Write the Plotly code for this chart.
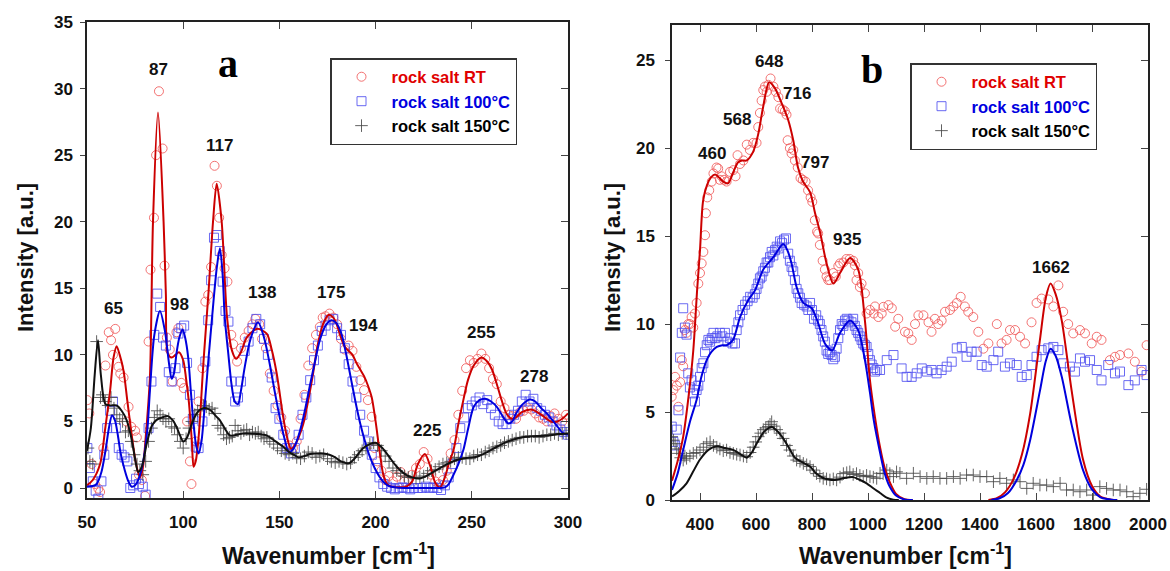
import plotly.graph_objects as go

# ---------------- Panel a data ----------------
a_rt_x = [50.2,51.2,52.4,54.1,55.9,56.8,58.5,59.6,61.3,62.5,63.5,64.7,66.4,67.3,69,70.5,71.6,73,75,75.9,77,78.5,80.2,82,83,84.8,85.9,87.4,89.3,90.3,91.5,93,94.5,96.5,97.5,99,100.3,102,103.5,104.3,106.5,108,110,111.5,113,114.5,116.3,117.5,118.7,120,121.5,123,125,126,128,130,132,134,136,137.5,139.5,141,143,145,147,149,151,153,155,157,159,161,163,165,167,169,171,172.5,174,176,178,180,182,184,186,188,190,192,194,196,198,199.5,201,203,205,207,209,211,213,215,217,219,221,223,225,227,229,231,233,235,237,239,241,243,245,247,249,251,253,255,257,259,261,263,265,267,269,271,273,275,277,279,281,283,285,287,289,291,293,295,297,299]
a_rt_y = [6.6,5.6,1.8,0.3,-0.05,-0.3,3.0,9.2,11.7,11.1,10.0,11.95,9.1,8.6,8.3,5.0,6.1,4.6,4.3,3.8,1.0,0.6,-0.6,11.0,16.4,20.3,25.0,29.8,25.5,16.7,11.3,10.4,8.0,11.7,12.0,7.9,7.5,5.0,2.0,0.3,3.5,6.5,9.0,14.0,14.5,16.6,24.2,22.7,20.3,17.5,16.5,15.5,11.5,10.8,9.5,10.5,11.3,11.8,12.3,12.7,12.3,11.2,10.5,8.6,7.3,6.2,5.3,4.3,3.2,3.0,3.5,5.2,7.0,9.2,10.5,11.5,12.1,12.8,12.9,13.1,12.8,12.3,11.2,10.4,10.7,10.3,9.1,8.1,7.35,6.6,5.35,3.0,2.0,1.3,0.6,0.9,0.5,0.85,1.2,0.5,0.6,1.0,1.5,1.8,2.7,2.2,1.0,0.5,0.3,0.6,1.3,2.6,3.6,5.5,7.3,9.0,9.6,9.4,9.7,10.1,9.7,9.0,8.2,7.8,6.5,6.0,5.5,5.4,5.2,5.7,5.8,6.0,5.9,5.6,5.3,5.2,5.0,5.4,5.6,5.2,5.0,5.5]

a_100_x = [50.2,51.5,53,54.5,55.9,57.5,59,60.5,62,63.5,65,66.5,68,69.5,71,72.5,74,75.5,77,79,80.5,82,83.5,85,86.5,88,89.5,91,92.5,94,96,97.5,99,100.5,102,103.5,105,106.5,108,110,111.5,113,114.5,116,117.5,119,120.5,122,123.5,125,127,128.5,130,132,134,136,138,140,142,144,146,148,150,152,154,156,158,160,162,164,166,168,170,172,174,176,178,180,182,184,186,188,190,192,194,196,198,200,202,204,206,208,210,212,214,216,218,220,222,224,226,228,230,232,234,236,238,240,242,244,246,248,250,252,254,256,258,260,262,264,266,268,270,272,274,276,278,280,282,284,286,288,290,292,294,296,298,300]
a_100_y = [3.0,1.5,0.5,-0.2,-0.8,0.5,2.5,4.5,5.8,6.5,4.5,3.0,2.5,2.3,2.0,0.0,0.2,0.7,0.3,0.1,-0.5,4.5,8.0,11.5,14.6,13.6,11.3,10.7,8.7,8.0,9.0,11.6,12.0,12.2,9.4,7.0,5.2,3.1,3.0,5.0,9.5,12.6,15.6,18.8,19.0,17.8,15.5,13.3,12.5,8.0,6.5,6.8,8.0,10.3,11.0,12.0,12.7,12.3,11.2,10.0,8.3,6.0,5.2,4.0,3.0,2.6,3.0,4.0,5.5,6.8,8.1,9.6,10.7,11.8,12.2,12.6,12.7,12.0,11.5,10.5,9.3,8.0,6.8,5.5,4.3,3.5,2.5,1.5,0.8,0.3,0.1,0.0,-0.1,0.0,0.05,0.0,-0.1,0.0,0.0,0.0,0.1,0.0,0.05,0.0,-0.15,0.2,0.8,1.8,3.0,4.5,5.3,6.0,6.2,6.5,6.8,6.3,6.6,6.0,5.5,5.0,4.8,4.8,5.2,5.5,5.8,6.5,7.0,6.5,6.7,6.0,5.8,5.5,5.3,5.0,4.7,4.4,4.2,4.0]

a_150_x = [50.5,51.5,53,55,57,58,59.5,61,62.5,64,65.5,67,68.5,70,71.5,73,74.5,76,77.5,79,80.5,82,83.5,85,86.5,88,89.5,91,92.5,94,95.5,97,98.5,100,101.5,103,104.5,106,107.5,109,110.5,112,113.5,115,116.5,118,119.5,121,122.5,124,125.5,127,128.5,130,131.5,133,134.5,136,137.5,139,140.5,142,143.5,145,147,149,151,153,155,157,159,161,163,165,167,169,171,173,175,177,179,181,183,185,187,189,191,193,195,197,199,201,203,205,207,209,211,213,215,217,219,221,223,225,227,229,231,233,235,237,239,241,243,245,247,249,251,253,255,257,259,261,263,265,267,269,271,273,275,277,279,281,283,285,287,289,291,293,295,297,299]
a_150_y = [3.0,2.0,1.8,11.0,6.8,7.0,6.5,6.2,6.8,6.0,5.5,5.2,5.0,4.2,4.3,3.5,2.5,1.8,1.3,1.0,2.0,3.5,4.5,5.3,5.8,5.5,5.2,5.0,5.2,4.6,4.5,4.0,3.5,3.0,3.7,4.5,5.0,5.5,5.8,5.9,6.2,6.1,5.9,6.0,5.6,4.7,4.5,4.0,3.7,3.8,3.9,4.7,4.3,4.1,4.3,4.4,4.0,4.2,4.1,4.2,3.9,3.7,3.8,3.5,3.3,3.0,2.8,2.6,2.5,2.6,2.3,2.2,2.4,2.7,2.6,2.3,2.4,2.5,2.2,2.0,1.9,2.0,1.9,1.8,1.9,2.3,2.5,2.8,3.0,3.3,3.4,3.2,2.8,2.4,2.0,1.5,1.3,1.1,0.9,0.8,0.8,0.7,0.8,0.9,1.1,1.3,1.4,1.6,1.8,1.9,2.0,2.2,2.3,2.3,2.2,2.2,2.4,2.5,2.5,2.7,2.8,3.0,3.1,3.2,3.4,3.5,3.6,3.7,3.8,3.8,3.9,3.9,3.9,3.8,3.9,4.0,4.0,4.1,4.0,4.1,4.1]

a_fit_rt_x = [50,53,56.8,59.5,62,63.8,65.4,67,69,71,73.4,75.5,77.5,79,80.5,82.7,84.3,86.9,89.8,91,92,94,96,97.8,100,101.5,103,104.5,105.4,106.5,108,110.6,113.2,115.5,117.4,120,122.8,125.4,127.5,130,133,138.3,143.4,146,148.6,152,154,156,158,160,162.4,165,167.5,170,172.7,175.5,178,180,182,184,186,188,190,192,194,196,198,200,202,204,206,208,212,216,219,222,225.6,228.5,231,233.5,236,238,240.5,243,245.6,248,251,255,258,260.5,262.9,265.5,268,270.7,273,276,281,284,287.5,291,294.5,297,300]
a_fit_rt_y = [0.2,0.6,1.8,4.5,7.3,9.8,10.65,10.0,8.8,6.5,3.8,1.8,0.8,1.5,3.8,8.3,20.0,28.2,20.0,14.5,10.1,9.8,10.0,10.2,9.6,8.2,6.4,3.5,1.6,2.0,3.8,9.6,14.8,20.0,22.85,20.0,12.8,10.3,9.7,10.2,11.3,11.95,11.6,10.4,8.6,5.3,3.8,2.95,3.2,3.8,4.8,6.6,8.6,10.8,12.3,13.0,12.8,12.2,11.3,10.6,10.3,10.0,9.4,8.9,8.4,7.7,6.8,5.0,2.85,1.0,0.3,0.1,0.05,0.1,0.5,1.8,2.55,1.6,0.4,0.05,0.8,1.8,2.85,4.8,6.6,8.1,9.2,9.8,9.5,8.9,7.85,6.6,5.6,5.2,5.3,5.7,5.9,5.7,5.35,5.0,5.0,5.2,5.6]

a_fit_100_x = [50,53,55,57.5,59.6,61.5,63,64.5,66,67.5,69.7,71.5,73.2,75,76.6,78.5,80.1,81.5,82.7,85,87.9,90.5,92.5,94,95.2,96.5,98,99.7,101,102.6,104,105.4,106.7,108,109.5,111.5,113.2,115,117.5,119.1,120.5,121.6,123.5,125.1,126.8,128.5,130,132,135,138.9,142,145,147.5,150.2,152.5,155,157.5,160.7,163.5,166,168.5,171,174,177,179.5,182.2,184.5,187,189.5,192,194.5,197,199.5,202,204.5,207,210,215,225,232,236,238,240,243,245.6,248,251,254,257,260,263,266,269,271,273,276.5,280.2,283,286,289,293,297.6,300]
a_fit_100_y = [0.1,0.15,0.3,1.2,2.8,4.6,5.45,5.1,4.0,2.6,1.3,0.5,0.1,0.2,0.6,1.5,2.8,4.6,7.3,11.5,13.3,11.8,9.5,8.2,8.6,10.1,11.3,11.9,11.3,9.8,7.2,4.8,3.2,2.6,3.5,6.8,9.8,12.8,16.6,18.0,16.0,12.8,10.0,7.8,6.5,6.3,7.3,9.1,11.2,12.45,11.3,9.3,7.3,5.3,3.8,2.7,3.0,4.3,6.0,7.8,9.5,11.1,12.2,12.6,12.4,11.6,10.2,8.35,6.5,4.85,3.5,2.35,1.5,0.85,0.4,0.15,0.05,0.0,0.0,0.0,0.05,0.3,0.85,1.8,2.85,4.4,6.1,6.6,6.7,6.5,6.1,5.4,4.85,5.0,5.6,6.3,6.65,6.5,6.0,5.6,4.9,4.1,4.0]

a_fit_150_x = [50,52,54,55.7,57.2,59.6,62,65.4,68,70.6,73,75,76.6,78.5,81,83.5,86,89,92,94.5,96.5,98.5,100,102,104.4,107,109.5,112,114.5,117,119,121.5,124.3,128,131,134.7,139,143.4,147,150,152,155,158,160,163,166,169.4,173,176,179,182,186,189,193.6,197,200,203.5,207,211,216,219.5,223,227,231.6,236,242,247,252.6,258,263,268,273,278,283.7,290,295,300]
a_fit_150_y = [2.8,4.5,8.5,11.1,8.5,6.3,6.2,6.2,5.8,5.1,3.8,2.2,1.2,1.6,3.3,4.6,5.1,5.3,5.4,5.1,4.6,3.9,3.5,3.8,4.8,5.6,5.95,6.0,5.8,5.4,5.1,4.5,3.95,4.0,4.1,4.1,4.05,3.95,3.6,3.3,3.1,2.7,2.45,2.3,2.4,2.55,2.6,2.6,2.5,2.3,2.0,1.85,2.2,3.0,3.3,3.4,3.0,2.35,1.6,0.97,0.78,0.72,0.95,1.35,1.7,2.1,2.25,2.35,2.7,3.1,3.45,3.7,3.85,3.9,3.95,4.05,4.1]

a_peak_labels = ["65", "87", "98", "117", "138", "175", "194", "225", "255", "278"]
a_peak_x = [64, 86.9, 98.3, 119, 141, 176.8, 193.5, 226.7, 254.8, 282.3]
a_peak_y = [13.5, 31.4, 13.8, 25.7, 14.7, 14.7, 12.2, 4.3, 11.65, 8.4]

# ---------------- Panel b data ----------------
b_rt_x = [299,305,311,317,323,329,335,340,346,352,358,364,370,376,382,388,394,400,406,412,418,421,426,433,442,448,459,465,471,477,486,495,507,519,527,534,543,555,567,578,590,602,608,614,620,626,632,638,644,652,662,671,680,686,695,703,709,713,721,727,733,739,749,759,767,777,786,795,801,810,818,822,828,838,846,852,858,864,876,885,894,900,912,923,935,947,953,959,965,971,977,989,995,1007,1021,1025,1037,1049,1055,1073,1085,1097,1108,1132,1144,1156,1168,1180,1198,1216,1227,1239,1251,1263,1275,1293,1305,1317,1331,1346,1358,1376,1394,1412,1430,1460,1477,1495,1507,1525,1543,1561,1584,1602,1620,1644,1662,1680,1697,1715,1733,1757,1775,1799,1817,1834,1864,1882,1900,1930,1953,1977,1995]
b_rt_y = [5.87,6.25,7.0,6.5,5.3,6.7,7.95,7.6,9.66,9.5,10.0,10.0,10.4,9.8,10.6,11.2,12.3,12.9,13.45,14.1,15.05,16.3,17.2,17.6,18.1,18.56,18.9,18.84,18.2,18.4,18.2,18.1,18.65,18.75,18.4,19.6,19.1,19.3,20.2,19.9,20.3,20.3,21.2,22.0,22.7,23.3,23.5,23.2,23.6,23.96,23.5,23.2,22.9,22.25,22.2,22.1,21.9,20.45,20.0,19.7,19.9,19.3,18.9,18.3,18.2,18.1,17.6,17.2,16.95,15.9,15.25,15.15,14.5,13.6,13.1,12.7,12.5,12.5,12.9,12.7,13.3,13.45,13.5,13.7,13.7,13.6,13.35,12.5,12.9,12.1,12.3,11.75,10.6,10.8,10.6,11.0,10.4,10.6,10.98,11.08,10.9,9.85,10.3,9.56,9.47,9.1,10.0,10.5,10.5,10.1,9.56,10.3,10.0,10.2,10.7,10.8,11.0,11.2,11.55,11.0,10.7,10.4,9.56,8.6,8.9,10.0,8.9,9.1,9.66,9.66,9.28,8.9,10.1,11.2,11.45,11.4,11.0,12.2,10.7,10.0,9.47,9.66,9.47,8.9,9.28,9.1,7.95,8.14,8.24,8.33,7.86,7.3,8.8]

b_100_x = [299,305,311,317,323,329,335,340,346,352,358,364,370,376,382,388,394,400,406,412,418,424,430,436,442,448,455,462,471,480,489,498,507,516,525,531,537,543,552,561,570,579,588,596,602,608,614,620,626,632,638,644,650,656,662,668,674,680,686,693,700,707,715,721,727,733,739,745,751,757,763,772,781,787,793,800,807,815,822,828,834,840,846,852,858,864,870,876,882,888,894,900,906,912,918,924,930,941,947,953,959,965,971,977,983,989,995,1001,1007,1013,1019,1025,1031,1043,1067,1091,1120,1138,1156,1174,1192,1210,1227,1245,1263,1281,1299,1317,1335,1352,1370,1388,1406,1424,1448,1465,1489,1507,1531,1549,1567,1584,1602,1620,1644,1662,1680,1697,1721,1739,1757,1775,1793,1817,1834,1858,1882,1900,1930,1953,1977,1995]
b_100_y = [4.17,3.3,3.1,4.0,5.1,8.1,9.5,10.9,9.8,9.4,7.2,6.4,6.8,6.06,5.6,6.25,6.5,7.0,7.5,7.77,8.4,8.8,9.1,9.0,9.2,9.5,9.2,9.3,9.5,9.3,9.5,9.0,9.2,8.9,8.9,9.66,10.1,10.5,10.8,11.1,11.3,11.55,11.5,11.7,12.0,12.3,12.6,12.7,13.0,13.2,13.5,13.5,13.8,14.1,13.9,14.2,14.4,14.3,14.7,14.6,14.8,14.87,14.0,13.6,13.25,13.0,12.5,12.0,11.75,11.5,11.2,11.1,11.0,10.8,11.2,10.8,10.3,10.5,10.2,10.0,9.66,9.3,9.0,8.5,8.3,8.4,8.24,8.0,8.14,8.6,9.2,9.66,10.0,9.9,10.2,10.3,10.2,10.1,10.3,9.9,9.66,9.5,9.3,9.1,8.9,8.8,8.7,8.3,7.95,7.7,7.5,7.3,7.4,7.39,7.95,8.24,7.48,7.0,7.0,7.2,7.48,7.3,7.39,7.2,7.39,7.58,7.86,8.62,8.7,8.14,8.43,8.43,7.67,7.58,7.95,8.43,7.58,7.77,7.67,7.0,7.1,7.67,8.14,8.52,8.62,8.7,8.52,7.77,7.58,7.3,8.05,7.86,7.95,7.39,6.8,7.67,7.2,7.3,6.53,6.8,7.39,7.1]

b_150_x = [299,305,311,317,323,331,340,346,352,364,376,388,400,412,424,436,448,460,471,483,495,507,519,531,543,555,567,579,590,599,608,617,626,635,644,650,656,665,674,686,697,709,721,733,745,757,769,781,793,805,816,828,840,852,864,876,888,900,912,924,935,947,959,971,983,995,1007,1019,1031,1043,1054,1067,1078,1091,1102,1114,1138,1162,1186,1210,1233,1257,1281,1305,1329,1352,1376,1400,1424,1448,1471,1495,1519,1543,1567,1590,1614,1638,1662,1686,1709,1733,1757,1781,1805,1828,1852,1876,1900,1924,1947,1971,1995]
b_150_y = [3.6,3.4,3.2,2.9,2.65,2.4,2.27,2.5,2.37,2.5,2.65,2.7,2.84,3.0,3.2,3.3,3.1,3.0,2.9,2.8,2.84,2.7,2.65,2.6,2.56,2.5,2.46,2.7,3.0,3.3,3.6,3.8,4.0,4.1,4.17,4.3,4.45,4.2,4.0,3.8,3.5,3.1,2.84,2.5,2.27,2.2,2.08,2.0,1.9,1.7,1.5,1.35,1.23,1.2,1.14,1.2,1.14,1.3,1.5,1.55,1.6,1.45,1.5,1.4,1.33,1.4,1.33,1.3,1.23,1.52,1.5,1.7,1.5,1.33,1.6,1.52,1.23,1.52,1.33,1.23,1.33,1.23,1.23,1.33,1.23,1.42,1.42,1.33,1.33,1.04,1.23,0.95,1.14,1.04,0.66,0.95,0.85,0.85,0.76,0.95,0.57,0.57,0.47,0.57,0.28,0.76,0.66,0.57,0.57,0.47,0.19,0.38,0.61]

b_fit_rt_x = [300,320,340,360,376,390,400,411,425,440,454,470,483,500,518,536,550,567,590,608,625,647,668,693,715,733,750,768,793,811,829,852,876,900,936,965,989,1007,1025,1043,1060,1078,1100,1130,1160,None,1430,1460,1490,1520,1550,1579,1614,1635,1652,1670,1692,1727,1768,1800,1830,1870,1890]
b_fit_rt_y = [1.1,2.2,3.6,6.0,8.5,12.0,14.2,17.0,17.9,18.35,18.5,18.3,18.1,18.0,18.6,19.2,19.3,19.3,19.8,20.8,22.3,23.75,23.4,22.5,21.6,20.45,18.9,18.1,17.5,16.3,15.2,13.45,12.3,12.9,13.75,13.1,10.2,6.8,4.7,3.0,1.8,1.0,0.35,0.05,0.0,None,0.0,0.1,0.45,1.2,2.6,4.9,9.1,11.5,12.3,11.7,10.2,6.25,2.3,0.8,0.2,0.02,0.0]

b_fit_100_x = [300,320,340,365,388,405,424,440,460,480,495,518,543,572,596,626,662,697,712,727,745,769,799,822,846,872,900,936,965,989,1007,1021,1043,1060,1078,1100,1130,1160,None,1440,1470,1500,1530,1555,1579,1614,1635,1652,1670,1692,1727,1768,1800,1830,1870,1890]
b_fit_100_y = [0.57,1.5,2.85,4.5,5.7,7.0,7.95,8.4,8.7,8.8,8.8,9.1,10.4,11.35,11.9,13.1,13.8,14.55,14.2,13.45,12.1,11.2,10.9,10.05,8.9,8.5,9.5,10.2,9.65,7.95,6.1,4.5,2.7,1.5,0.75,0.25,0.03,0.0,None,0.0,0.1,0.4,1.1,2.0,3.4,6.2,7.9,8.6,8.2,7.0,4.3,1.7,0.6,0.15,0.02,0.0]

b_fit_150_x = [300,325,352,375,400,430,460,490,518,545,567,585,602,630,656,680,697,720,739,765,793,815,840,865,888,915,947,970,995,1020,1043,1065,1090,1110]
b_fit_150_y = [0.2,0.5,0.95,1.6,2.3,2.85,3.05,2.95,2.85,2.6,2.4,2.7,3.2,3.9,4.15,3.85,3.5,2.9,2.4,2.15,1.9,1.5,1.25,1.15,1.15,1.25,1.3,1.15,0.95,0.65,0.4,0.15,0.02,0.0]

b_peak_labels = ["460", "568", "648", "716", "797", "935", "1662"]
b_peak_x = [443, 532, 646, 746, 811, 925, 1654]
b_peak_y = [19.7, 21.65, 24.9, 23.1, 19.2, 14.8, 13.2]

a_xticks = [50, 100, 150, 200, 250, 300]
a_yticks = [0, 5, 10, 15, 20, 25, 30, 35]
b_xticks = [400, 600, 800, 1000, 1200, 1400, 1600, 1800, 2000]
b_yticks = [0, 5, 10, 15, 20, 25]

series_names = ["rock salt RT", "rock salt 100°C", "rock salt 150°C"]

# ---------------- styling ----------------
FONT = "Arial, Liberation Sans, sans-serif"
RED_TXT, BLUE_TXT = "#e00000", "#0000e0"
LINE_COLORS = ["#cc0000", "#0000dd", "#111111"]
MARKER_COLORS = ["rgba(240,90,90,0.85)", "rgba(80,80,240,0.85)", "rgba(70,70,70,0.85)"]
SYMBOLS = ["circle-open", "square-open", "cross-thin-open"]
TXT_COLORS = [RED_TXT, BLUE_TXT, "#000000"]

fig = go.Figure()

def add_panel(xa, ya, legend, pts, fits):
    for i, (px, py) in enumerate(pts):
        fig.add_trace(go.Scatter(
            x=px, y=py, mode="markers", xaxis=xa, yaxis=ya, legend=legend,
            name=f"<b><span style='color:{TXT_COLORS[i]}'>{series_names[i]}</span></b>",
            marker=dict(symbol=SYMBOLS[i], size=9, color=MARKER_COLORS[i],
                        line=dict(width=1, color=MARKER_COLORS[i])),
        ))
    for i, (fx, fy) in enumerate(fits):
        fig.add_trace(go.Scatter(
            x=fx, y=fy, mode="lines", xaxis=xa, yaxis=ya, showlegend=False,
            line=dict(color=LINE_COLORS[i], width=2, shape="spline", smoothing=0.8),
            connectgaps=False,
        ))

add_panel("x", "y", "legend",
          [(a_rt_x, a_rt_y), (a_100_x, a_100_y), (a_150_x, a_150_y)],
          [(a_fit_rt_x, a_fit_rt_y), (a_fit_100_x, a_fit_100_y), (a_fit_150_x, a_fit_150_y)])
add_panel("x2", "y2", "legend2",
          [(b_rt_x, b_rt_y), (b_100_x, b_100_y), (b_150_x, b_150_y)],
          [(b_fit_rt_x, b_fit_rt_y), (b_fit_100_x, b_fit_100_y), (b_fit_150_x, b_fit_150_y)])

W, H = 1170, 571
ax_common = dict(showgrid=False, zeroline=False, showline=True, linecolor="#222",
                 linewidth=1.5, tickcolor="#444", tickwidth=1, automargin=False,
                 tickfont=dict(family=FONT, size=17, color="#111", weight="bold"))
overlay_common = dict(ticks="inside", ticklen=7, tickcolor="#444", showticklabels=False,
                      showline=False, showgrid=False, zeroline=False, automargin=False)

a_dom_x = [87 / W, 568 / W]
a_dom_y = [1 - 498 / H, 1 - 22 / H]
b_dom_x = [672 / W, 1148 / W]
b_dom_y = [1 - 500 / H, 1 - 25 / H]

legend_common = dict(xanchor="left", yanchor="top", bgcolor="white", bordercolor="#333",
                     borderwidth=1.5, itemwidth=50, font=dict(family=FONT, size=16.5),
                     tracegroupgap=0)

fig.update_layout(
    template="none",
    width=W, height=H, margin=dict(l=0, r=0, t=0, b=0, pad=0, autoexpand=False),
    paper_bgcolor="white", plot_bgcolor="white",
    font=dict(family=FONT, color="#111"),
    xaxis=dict(domain=a_dom_x, range=[50, 300], tickvals=a_xticks, ticks="inside", ticklen=7,
               mirror="ticks", anchor="y", ticklabelstandoff=8, **ax_common),
    yaxis=dict(domain=a_dom_y, range=[-0.75, 35], tickvals=a_yticks, ticks="outside", ticklen=5,
               mirror=True, anchor="x", ticklabelstandoff=4, **ax_common),
    yaxis3=dict(overlaying="y", side="right", anchor="x", range=[-0.75, 35], tickvals=a_yticks,
                **overlay_common),
    xaxis2=dict(domain=b_dom_x, range=[300, 2000], tickvals=b_xticks, ticks="inside", ticklen=7,
                mirror="ticks", anchor="y2", ticklabelstandoff=8, **ax_common),
    yaxis2=dict(domain=b_dom_y, range=[0, 27], tickvals=b_yticks, ticks="outside", ticklen=5,
                mirror=True, anchor="x2", ticklabelstandoff=7, **ax_common),
    yaxis4=dict(overlaying="y2", side="right", anchor="x2", range=[0, 27], tickvals=b_yticks,
                **overlay_common),
    legend=dict(x=330 / W, y=1 - 58 / H, **legend_common),
    legend2=dict(x=910 / W, y=1 - 63 / H, **legend_common),
)

# invisible traces that activate the overlay axes (inward ticks on the right side)
fig.add_trace(go.Scatter(x=[None], y=[None], xaxis="x", yaxis="y3", showlegend=False, hoverinfo="skip"))
fig.add_trace(go.Scatter(x=[None], y=[None], xaxis="x2", yaxis="y4", showlegend=False, hoverinfo="skip"))

annotations = []
for t, x, y in zip(a_peak_labels, a_peak_x, a_peak_y):
    annotations.append(dict(x=x, y=y, xref="x", yref="y", text=f"<b>{t}</b>", showarrow=False,
                            xanchor="center", yanchor="middle",
                            font=dict(family=FONT, size=17, color="#111")))
for t, x, y in zip(b_peak_labels, b_peak_x, b_peak_y):
    annotations.append(dict(x=x, y=y, xref="x2", yref="y2", text=f"<b>{t}</b>", showarrow=False,
                            xanchor="center", yanchor="middle",
                            font=dict(family=FONT, size=17, color="#111")))
SERIF = "Liberation Serif, Times New Roman, serif"
annotations.append(dict(x=228 / W, y=1 - 63 / H, xref="paper", yref="paper", text="<b>a</b>",
                        showarrow=False, xanchor="center", yanchor="middle",
                        font=dict(family=SERIF, size=40, color="#000")))
annotations.append(dict(x=872 / W, y=1 - 70 / H, xref="paper", yref="paper", text="<b>b</b>",
                        showarrow=False, xanchor="center", yanchor="middle",
                        font=dict(family=SERIF, size=40, color="#000")))
for cx in (25, 612):
    annotations.append(dict(x=cx / W, y=1 - 258 / H, xref="paper", yref="paper",
                            text="<b>Intensity [a.u.]</b>", textangle=-90, showarrow=False,
                            xanchor="center", yanchor="middle",
                            font=dict(family=FONT, size=22, color="#111")))
for cx in (328, 905):
    annotations.append(dict(x=cx / W, y=1 - 554 / H, xref="paper", yref="paper",
                            text="<b>Wavenumber [cm<sup>-1</sup>]</b>", showarrow=False,
                            xanchor="center", yanchor="middle",
                            font=dict(family=FONT, size=23, color="#111")))
fig.update_layout(annotations=annotations)

# remove the browser's default page margin so the 1170x571 figure fills the window exactly
fig.write_html("out.html", config={"displayModeBar": False},
               post_script="document.body.style.margin='0px';document.body.style.overflow='hidden';")
